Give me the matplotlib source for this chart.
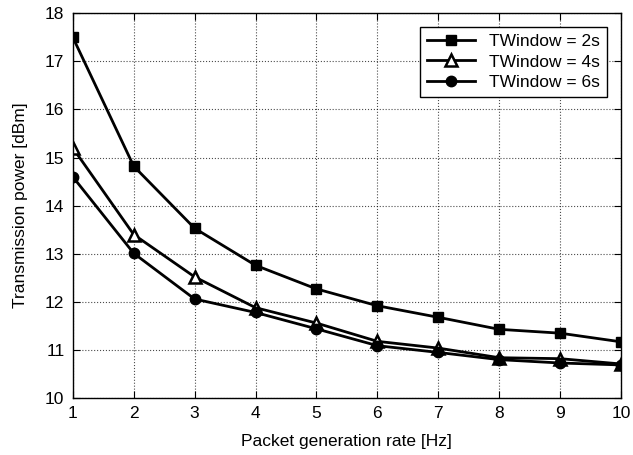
import numpy as np
import matplotlib.pyplot as plt

plt.rcParams['font.family'] = ['Liberation Sans', 'DejaVu Sans']

# data
rate = [1, 2, 3, 4, 5, 6, 7, 8, 9, 10]
tw2 = [17.50, 14.82, 13.53, 12.76, 12.27, 11.92, 11.68, 11.43, 11.35, 11.17]
tw4 = [15.20, 13.40, 12.52, 11.88, 11.56, 11.18, 11.04, 10.84, 10.82, 10.71]
tw6 = [14.60, 13.01, 12.06, 11.78, 11.44, 11.09, 10.95, 10.80, 10.73, 10.69]

fig = plt.figure(figsize=(6.33, 4.55), dpi=100)
ax = fig.add_axes([0.115, 0.125, 0.866, 0.846])

ax.plot(rate, tw2, 'k-', marker='s', lw=2, ms=7, label='TWindow = 2s')
ax.plot(rate, tw4, 'k-', marker='^', lw=2, ms=8, mfc='white', mew=1.8, label='TWindow = 4s')
ax.plot(rate, tw6, 'k-', marker='o', lw=2, ms=7.5, label='TWindow = 6s')

ax.set_xlim(1, 10)
ax.set_ylim(10, 18)
ax.set_xticks(range(1, 11))
ax.set_yticks(range(10, 19))
ax.grid(True, color='black', linestyle=':', linewidth=0.8, alpha=0.7)
ax.tick_params(direction='in', top=True, right=True, labelsize=12.5, length=5, pad=6)
for s in ax.spines.values():
    s.set_linewidth(1)

ax.set_xlabel('Packet generation rate [Hz]', fontsize=12.5, labelpad=9)
ax.set_ylabel('Transmission power [dBm]', fontsize=12.5, labelpad=12)

leg = ax.legend(loc='upper right', fontsize=12.5, fancybox=False, edgecolor='black',
                framealpha=1, handlelength=2.8, borderaxespad=0.8, labelspacing=0.3)
leg.get_frame().set_linewidth(1)

plt.savefig('out.png', dpi=100)
